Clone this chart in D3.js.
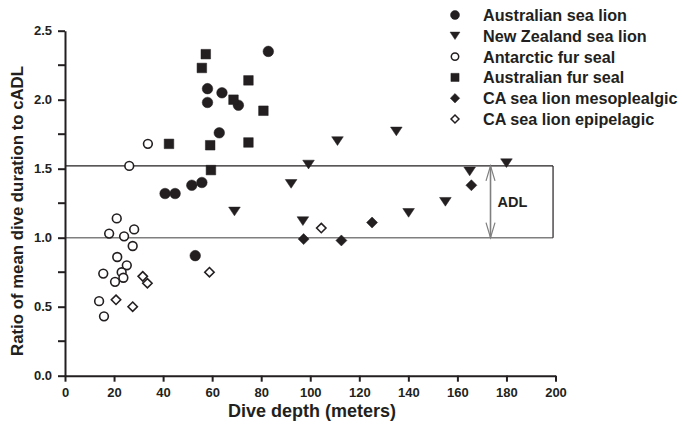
<!DOCTYPE html>
<html>
<head>
<meta charset="utf-8">
<script src="https://cdn.jsdelivr.net/npm/d3@7"></script>
<style>
  body { margin: 0; background: #fff; }
  svg { display: block; font-family: Arial, "Liberation Sans", Helvetica, sans-serif; font-weight: bold; }
  .axis path, .axis line { stroke: #231f20; stroke-width: 2; }
  .axis text { font-size: 13px; font-weight: bold; fill: #231f20; font-family: Arial, "Liberation Sans", sans-serif; }
</style>
</head>
<body>
<svg width="682" height="432"></svg>
<script>
// data: [dive depth, ratio]
var ausSeaLion = [[82.9, 2.35], [58.1, 2.08], [58.1, 1.98], [64.0, 2.05], [70.7, 1.96], [62.9, 1.76],
                  [55.8, 1.40], [51.7, 1.38], [40.8, 1.32], [44.9, 1.32], [53.1, 0.87]];
var nzSeaLion = [[135.1, 1.77], [111.1, 1.70], [99.3, 1.53], [92.2, 1.39], [180.0, 1.54], [165.0, 1.48],
                 [155.1, 1.26], [140.1, 1.18], [97.0, 1.12], [69.1, 1.19]];
var antFurSeal = [[33.8, 1.68], [26.2, 1.52], [21.1, 1.14], [18.0, 1.03], [24.1, 1.01], [28.2, 1.06],
                  [27.6, 0.94], [21.3, 0.86], [25.2, 0.80], [23.1, 0.75], [15.6, 0.74], [23.8, 0.71],
                  [20.4, 0.68], [13.9, 0.54], [15.9, 0.43]];
var ausFurSeal = [[57.4, 2.33], [55.8, 2.23], [74.8, 2.14], [68.7, 2.00], [80.9, 1.92], [42.4, 1.68],
                  [59.2, 1.67], [74.8, 1.69], [59.5, 1.49]];
var caMeso = [[97.3, 0.99], [112.7, 0.98], [125.2, 1.11], [165.7, 1.38]];
var caEpi = [[31.7, 0.72], [33.6, 0.67], [20.8, 0.55], [27.6, 0.50], [58.9, 0.75], [104.5, 1.07]];

var seriesNames = ["Australian sea lion", "New Zealand sea lion", "Antarctic fur seal",
                   "Australian fur seal", "CA sea lion mesoplealgic", "CA sea lion epipelagic"];

var xTicks = [0, 20, 40, 60, 80, 100, 120, 140, 160, 180, 200];
var yTicks = [0, 0.5, 1.0, 1.5, 2.0, 2.5];
var yMinor = [0.25, 0.75, 1.25, 1.75, 2.25];
var adlLow = 1.0, adlHigh = 1.52, adlRight = 199, arrowAt = 173.5;

var ink = "#231f20";

var svg = d3.select("svg");
var x = d3.scaleLinear().domain([0, 200]).range([65, 555.5]);
var y = d3.scaleLinear().domain([0, 2.5]).range([375.7, 30.7]);

// triangle pointing down
var triDown = {
  draw: function (ctx, size) {
    var w = Math.sqrt(size) * 1.3, h = w * 0.75;
    ctx.moveTo(-w / 2, -h / 2);
    ctx.lineTo(w / 2, -h / 2);
    ctx.lineTo(0, h / 2);
    ctx.closePath();
  }
};
var diamond = {
  draw: function (ctx, size) {
    var r = Math.sqrt(size) / 2 * 1.15;
    ctx.moveTo(0, -r); ctx.lineTo(r, 0); ctx.lineTo(0, r); ctx.lineTo(-r, 0); ctx.closePath();
  }
};

var styles = [
  { data: ausSeaLion, type: d3.symbolCircle, size: 88, filled: true },
  { data: nzSeaLion, type: triDown, size: 80, filled: true },
  { data: antFurSeal, type: d3.symbolCircle, size: 60, filled: false },
  { data: ausFurSeal, type: d3.symbolSquare, size: 92, filled: true },
  { data: caMeso, type: diamond, size: 92, filled: true },
  { data: caEpi, type: diamond, size: 66, filled: false }
];

// ADL box
var g = svg.append("g");
g.append("line").attr("x1", x(0)).attr("x2", x(adlRight))
  .attr("y1", y(adlHigh)).attr("y2", y(adlHigh))
  .attr("stroke", ink).attr("stroke-width", 1.2);
g.append("line").attr("x1", x(0)).attr("x2", x(adlRight))
  .attr("y1", y(adlLow)).attr("y2", y(adlLow))
  .attr("stroke", "#7f7f7f").attr("stroke-width", 1.6);
g.append("line").attr("x1", x(adlRight)).attr("x2", x(adlRight))
  .attr("y1", y(adlHigh)).attr("y2", y(adlLow))
  .attr("stroke", ink).attr("stroke-width", 1.2);

// double arrow
var ax = x(arrowAt), at = y(adlHigh), ab = y(adlLow);
g.append("line").attr("x1", ax).attr("x2", ax).attr("y1", at).attr("y2", ab)
  .attr("stroke", "#7f7f7f").attr("stroke-width", 1.6);
g.append("path")
  .attr("d", "M" + (ax - 4.5) + "," + (at + 15) + "L" + ax + "," + at + "L" + (ax + 4.5) + "," + (at + 15) +
             "M" + (ax - 4.5) + "," + (ab - 15) + "L" + ax + "," + ab + "L" + (ax + 4.5) + "," + (ab - 15))
  .attr("fill", "none").attr("stroke", "#7f7f7f").attr("stroke-width", 1.2);
g.append("text").attr("x", ax + 7).attr("y", (at + ab) / 2 + 5)
  .attr("font-size", "14.5px").attr("fill", ink).text("ADL");

// axes
svg.append("g").attr("class", "axis")
  .attr("transform", "translate(0," + y(0) + ")")
  .call(d3.axisBottom(x).tickValues(xTicks).tickSize(6).tickSizeOuter(0).tickPadding(6).tickFormat(d3.format("d")));

var yAxis = svg.append("g").attr("class", "axis")
  .attr("transform", "translate(" + x(0) + ",0)");
yAxis.call(d3.axisLeft(y).tickValues(yTicks).tickSize(7).tickSizeOuter(0).tickPadding(6).tickFormat(d3.format(".1f")));
yAxis.selectAll(".minor").data(yMinor).enter().append("line")
  .attr("class", "minor").attr("x1", -7).attr("x2", 0)
  .attr("y1", d => y(d)).attr("y2", d => y(d));

// axis titles
svg.append("text").attr("x", 312).attr("y", 417).attr("text-anchor", "middle")
  .attr("font-size", "18px").attr("fill", ink).text("Dive depth (meters)");
svg.append("text").attr("transform", "translate(23,211) rotate(-90)").attr("text-anchor", "middle")
  .attr("font-size", "16.8px").attr("fill", ink).text("Ratio of mean dive duration to cADL");

// points
styles.forEach(function (s) {
  svg.append("g").selectAll("path").data(s.data).enter().append("path")
    .attr("transform", d => "translate(" + x(d[0]) + "," + y(d[1]) + ")")
    .attr("d", d3.symbol().type(s.type).size(s.size))
    .attr("fill", s.filled ? ink : "#fff")
    .attr("stroke", ink)
    .attr("stroke-width", s.filled ? 0.5 : 1.6);
});

// legend
var legend = svg.append("g");
seriesNames.forEach(function (name, i) {
  var s = styles[i];
  var ly = 15 + i * 20.8;
  legend.append("path")
    .attr("transform", "translate(455," + ly + ")")
    .attr("d", d3.symbol().type(s.type).size(s.size * 0.72))
    .attr("fill", s.filled ? ink : "#fff")
    .attr("stroke", ink)
    .attr("stroke-width", s.filled ? 0.5 : 1.5);
  legend.append("text").attr("x", 483).attr("y", ly + 6)
    .attr("font-size", "16.2px").attr("fill", ink).text(name);
});
</script>
</body>
</html>
